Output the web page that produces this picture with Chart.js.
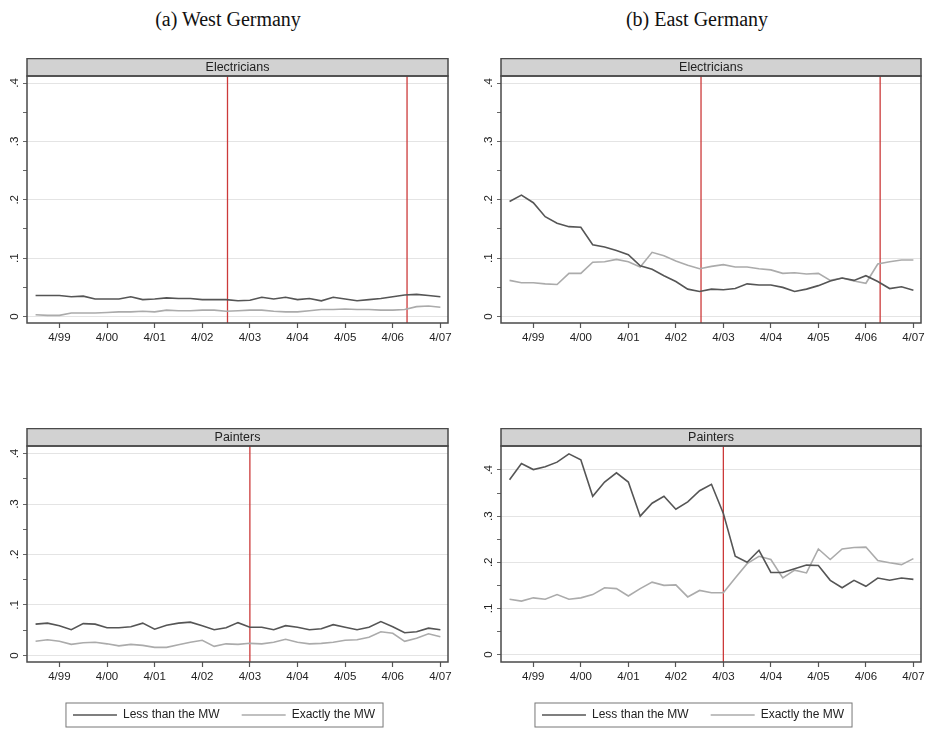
<!DOCTYPE html>
<html>
<head>
<meta charset="utf-8">
<script src="https://cdn.jsdelivr.net/npm/chart.js@4.4.1/dist/chart.umd.min.js"></script>
<style>
  body { margin: 0; background: #fff; width: 930px; height: 729px; position: relative; overflow: hidden; }
  canvas { position: absolute; }
  .ttl { position: absolute; top: 8px; width: 300px; text-align: center;
         font-family: "Liberation Serif", "Times New Roman", serif; font-size: 20px; color: #111; }
</style>
</head>
<body>
<div class="ttl" style="left:78px">(a) West Germany</div>
<div class="ttl" style="left:547px">(b) East Germany</div>
<canvas id="wElec" width="465" height="290" style="left:0;top:58px"></canvas>
<canvas id="eElec" width="465" height="290" style="left:465px;top:58px"></canvas>
<canvas id="wPaint" width="465" height="303" style="left:0;top:428px"></canvas>
<canvas id="ePaint" width="465" height="303" style="left:465px;top:428px"></canvas>
<script>
// quarters, 10/98 .. 4/07
const quarters = ['10/98',
  '1/99','4/99','7/99','10/99','1/00','4/00','7/00','10/00',
  '1/01','4/01','7/01','10/01','1/02','4/02','7/02','10/02',
  '1/03','4/03','7/03','10/03','1/04','4/04','7/04','10/04',
  '1/05','4/05','7/05','10/05','1/06','4/06','7/06','10/06','1/07','4/07'];
const xTickLabels = ['4/99','4/00','4/01','4/02','4/03','4/04','4/05','4/06','4/07'];
const yTickValues = [0, 0.05, 0.1, 0.15, 0.2, 0.25, 0.3, 0.35, 0.4];
const yTickText = ['0', '', '.1', '', '.2', '', '.3', '', '.4'];

// West Germany, electricians
const westElecLess = [0.036,0.036,0.036,0.034,0.035,0.030,0.030,0.030,0.034,0.029,
  0.030,0.032,0.031,0.031,0.029,0.029,0.029,0.027,0.028,0.033,
  0.030,0.033,0.029,0.031,0.027,0.033,0.030,0.027,0.029,0.031,
  0.034,0.037,0.038,0.036,0.034];
const westElecExact = [0.003,0.002,0.002,0.006,0.006,0.006,0.007,0.008,0.008,0.009,
  0.008,0.011,0.010,0.010,0.011,0.011,0.009,0.010,0.011,0.011,
  0.009,0.008,0.008,0.010,0.012,0.012,0.013,0.012,0.012,0.011,
  0.011,0.012,0.017,0.018,0.016];
// East Germany, electricians
const eastElecLess = [0.197,0.208,0.195,0.171,0.160,0.154,0.153,0.123,0.119,0.113,
  0.106,0.087,0.081,0.070,0.060,0.047,0.043,0.047,0.046,0.048,
  0.056,0.054,0.054,0.050,0.043,0.047,0.053,0.061,0.066,0.062,
  0.070,0.060,0.048,0.051,0.045];
const eastElecExact = [0.062,0.058,0.058,0.056,0.055,0.074,0.074,0.093,0.094,0.098,
  0.094,0.085,0.110,0.104,0.095,0.088,0.082,0.086,0.089,0.085,
  0.085,0.082,0.080,0.074,0.075,0.073,0.074,0.062,0.066,0.061,
  0.057,0.090,0.094,0.097,0.097];
// West Germany, painters
const westPaintLess = [0.062,0.064,0.059,0.051,0.063,0.062,0.055,0.055,0.057,0.064,
  0.052,0.060,0.064,0.066,0.059,0.051,0.055,0.065,0.056,0.056,
  0.051,0.059,0.056,0.051,0.053,0.061,0.056,0.051,0.056,0.067,
  0.057,0.045,0.047,0.054,0.051];
const westPaintExact = [0.028,0.031,0.028,0.022,0.025,0.026,0.023,0.019,0.022,0.020,
  0.016,0.016,0.021,0.026,0.030,0.018,0.023,0.022,0.024,0.023,
  0.026,0.032,0.026,0.023,0.024,0.026,0.030,0.031,0.036,0.047,
  0.044,0.028,0.034,0.043,0.037];
// East Germany, painters
const eastPaintLess = [0.379,0.414,0.401,0.407,0.417,0.435,0.422,0.343,0.374,0.394,
  0.374,0.300,0.328,0.343,0.315,0.331,0.355,0.369,0.306,0.213,
  0.200,0.226,0.178,0.178,0.186,0.194,0.193,0.161,0.145,0.161,
  0.148,0.166,0.161,0.166,0.163];
const eastPaintExact = [0.120,0.116,0.123,0.120,0.130,0.120,0.123,0.130,0.145,0.143,
  0.127,0.143,0.157,0.150,0.151,0.125,0.139,0.134,0.134,0.166,
  0.197,0.213,0.206,0.166,0.183,0.177,0.229,0.206,0.229,0.232,
  0.233,0.204,0.199,0.195,0.208];

// minimum wage dates (decimal years)
const elecMwDates = [2002.78, 2006.55];
const paintMwDates = [2003.25];

Chart.defaults.font.family = '"Liberation Sans", Arial, sans-serif';
Chart.defaults.color = '#222';

function qx(q) {
  const [m, y] = q.split('/').map(Number);
  return (y < 50 ? 2000 + y : 1900 + y) + (m - 1) / 12;
}

// grey strip title, plot frame and legend box
const stripPlugin = {
  id: 'strip',
  afterDraw(chart, args, opts) {
    const { ctx, chartArea: a } = chart;
    ctx.save();
    ctx.fillStyle = '#d2d2d2';
    ctx.fillRect(a.left, a.top - 17.5, a.right - a.left, 17.5);
    ctx.strokeStyle = '#4a4a4a';
    ctx.lineWidth = 1.5;
    ctx.strokeRect(a.left, a.top - 17.5, a.right - a.left, 17.5);
    ctx.strokeRect(a.left, a.top, a.right - a.left, a.bottom - a.top);
    ctx.fillStyle = '#222';
    ctx.font = '12.5px "Liberation Sans", Arial, sans-serif';
    ctx.textAlign = 'center';
    ctx.textBaseline = 'middle';
    ctx.fillText(opts.text, (a.left + a.right) / 2, a.top - 8.5);
    if (chart.options.plugins.legend.display) {
      const hb = chart.legend.legendHitBoxes;
      const l = Math.min(...hb.map(h => h.left)) - 7;
      const r = Math.max(...hb.map(h => h.left + h.width)) + 8;
      const t = Math.min(...hb.map(h => h.top)) - 6;
      const b = Math.max(...hb.map(h => h.top + h.height)) + 6;
      ctx.strokeStyle = '#777';
      ctx.lineWidth = 1;
      ctx.strokeRect(l, t, r - l, b - t);
    }
    ctx.restore();
  }
};

function makeChart(id, title, less, exact, mwDates, yMin, yMax, yAxisWidth, padRight, xAxisHeight, withLegend) {
  const datasets = [
    { label: 'Less than the MW', data: quarters.map((q, i) => ({ x: qx(q), y: less[i] })),
      borderColor: '#555', borderWidth: 1.6, pointRadius: 0, tension: 0 },
    { label: 'Exactly the MW', data: quarters.map((q, i) => ({ x: qx(q), y: exact[i] })),
      borderColor: '#ababab', borderWidth: 1.6, pointRadius: 0, tension: 0 }
  ];
  mwDates.forEach(d => datasets.push({
    label: 'mw', data: [{ x: d, y: yMin }, { x: d, y: yMax }],
    borderColor: '#cc3a3a', borderWidth: 1.3, pointRadius: 0
  }));

  return new Chart(document.getElementById(id), {
    type: 'line',
    data: { datasets },
    plugins: [stripPlugin],
    options: {
      responsive: false,
      animation: false,
      layout: { padding: { top: 18, right: padRight, left: 0, bottom: 0 } },
      plugins: {
        strip: { text: title },
        tooltip: { enabled: false },
        legend: {
          display: withLegend,
          position: 'bottom',
          labels: {
            usePointStyle: true, pointStyle: 'line', pointStyleWidth: 44,
            boxHeight: 12, padding: 22, font: { size: 12 }, color: '#222',
            filter: it => it.datasetIndex < 2
          }
        }
      },
      scales: {
        x: {
          type: 'linear', min: 1998.57, max: 2007.41,
          afterBuildTicks: s => { s.ticks = xTickLabels.map(l => ({ value: qx(l) })); },
          afterFit: s => { s.height = xAxisHeight; },
          ticks: { callback: (v, i) => xTickLabels[i], autoSkip: false, maxRotation: 0, minRotation: 0,
                   padding: 3, font: { size: 11.5 }, color: '#222' },
          grid: { drawOnChartArea: false, drawTicks: true, tickLength: 5, tickColor: '#555', tickWidth: 1.2 },
          border: { display: false }
        },
        y: {
          min: yMin, max: yMax,
          afterBuildTicks: s => { s.ticks = yTickValues.map(v => ({ value: v })); },
          afterFit: s => { s.width = yAxisWidth; },
          ticks: { callback: (v, i) => yTickText[i], autoSkip: false, minRotation: 90, maxRotation: 90,
                   crossAlign: 'center', padding: 3, font: { size: 11.5 }, color: '#222' },
          grid: { color: c => (yTickText[c.index] ? '#e4e4e4' : 'rgba(0,0,0,0)'),
                  tickColor: '#666', tickLength: 4, lineWidth: 1 },
          border: { display: false }
        }
      }
    }
  });
}

makeChart('wElec', 'Electricians', westElecLess, westElecExact, elecMwDates, -0.011, 0.412, 27, 17, 25, false);
makeChart('eElec', 'Electricians', eastElecLess, eastElecExact, elecMwDates, -0.011, 0.412, 36, 9, 25, false);
makeChart('wPaint', 'Painters', westPaintLess, westPaintExact, paintMwDates, -0.013, 0.415, 27, 17, 25, true);
makeChart('ePaint', 'Painters', eastPaintLess, eastPaintExact, paintMwDates, -0.016, 0.452, 36, 9, 25, true);
</script>
</body>
</html>
